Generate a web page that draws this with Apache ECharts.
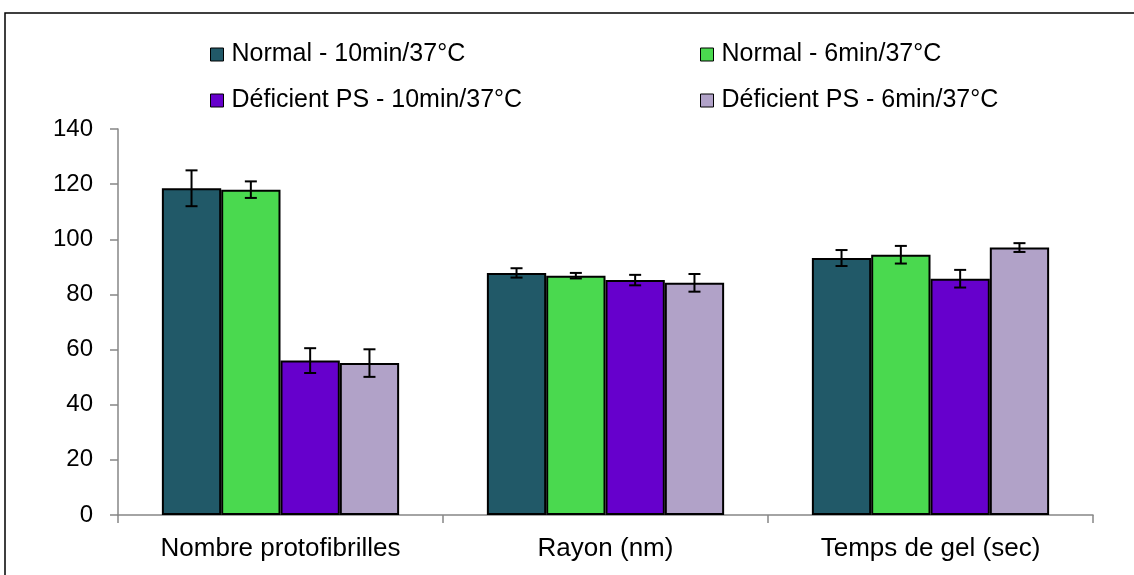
<!DOCTYPE html>
<html>
<head>
<meta charset="utf-8">
<script src="https://cdn.jsdelivr.net/npm/echarts@6/dist/echarts.min.js"></script>
<style>
  html, body { margin: 0; padding: 0; background: #fff; }
  #main { width: 1134px; height: 575px; }
</style>
</head>
<body>
<div id="main"></div>
<script>
var categories = ["Nombre protofibrilles", "Rayon (nm)", "Temps de gel (sec)"];
var seriesNames = ["Normal - 10min/37°C", "Normal - 6min/37°C", "Déficient PS - 10min/37°C", "Déficient PS - 6min/37°C"];
var colors = ["#215968", "#4ad94f", "#6600cc", "#b1a2c8"];

var normal10 = [118.5, 87.8, 93.2];
var normal6 = [118.0, 86.8, 94.4];
var deficient10 = [56.0, 85.2, 85.7];
var deficient6 = [55.1, 84.2, 97.0];

var normal10Err = [6.5, 1.7, 2.9];
var normal6Err = [3.0, 1.0, 3.2];
var deficient10Err = [4.5, 1.9, 3.2];
var deficient6Err = [5.0, 3.2, 1.6];

var yTicks = [0, 20, 40, 60, 80, 100, 120, 140];

var values = [normal10, normal6, deficient10, deficient6];
var errors = [normal10Err, normal6Err, deficient10Err, deficient6Err];

var chartDom = document.getElementById("main");
var myChart = echarts.init(chartDom);
var option;

var GROUP = 0.73; // share of the category taken by the 4 bars

function errorSeries(k) {
  var data = categories.map(function (c, i) {
    return [i, values[k][i] - errors[k][i], values[k][i] + errors[k][i]];
  });
  return {
    type: "custom",
    name: seriesNames[k] + " err",
    silent: true,
    z: 10,
    renderItem: function (params, api) {
      var bw = api.size([1, 0])[0] * GROUP / 4;
      var lo = api.coord([api.value(0), api.value(1)]);
      var hi = api.coord([api.value(0), api.value(2)]);
      var x = lo[0] + (k - 1.5) * bw;
      var cap = 6;
      var st = { stroke: "#000", lineWidth: 2 };
      return {
        type: "group",
        children: [
          { type: "line", shape: { x1: x, y1: lo[1], x2: x, y2: hi[1] }, style: st },
          { type: "line", shape: { x1: x - cap, y1: lo[1], x2: x + cap, y2: lo[1] }, style: st },
          { type: "line", shape: { x1: x - cap, y1: hi[1], x2: x + cap, y2: hi[1] }, style: st }
        ]
      };
    },
    encode: { x: 0, y: [1, 2] },
    data: data
  };
}

var barSeries = seriesNames.map(function (n, k) {
  return {
    type: "bar",
    name: n,
    data: values[k],
    barGap: "0%",
    barCategoryGap: ((1 - GROUP) * 100).toFixed(1) + "%",
    itemStyle: { color: colors[k], borderColor: "#000", borderWidth: 2 }
  };
});

function legendAt(name, left, top) {
  return {
    data: [name],
    left: left,
    top: top,
    padding: 0,
    itemWidth: 13,
    itemHeight: 13,
    icon: "rect",
    itemStyle: { borderColor: "#000", borderWidth: 1 },
    textStyle: { fontFamily: "Liberation Sans", fontSize: 25, color: "#000", padding: [0, 0, 0, 3] },
    selectedMode: false
  };
}

option = {
  animation: false,
  backgroundColor: "#fff",
  textStyle: { fontFamily: "Liberation Sans" },
  graphic: [{
    type: "rect",
    shape: { x: 5, y: 13, width: 1140, height: 580 },
    style: { fill: "none", stroke: "#000", lineWidth: 1.5 },
    silent: true
  }],
  legend: [
    legendAt(seriesNames[0], 210, 42),
    legendAt(seriesNames[1], 700, 42),
    legendAt(seriesNames[2], 210, 88),
    legendAt(seriesNames[3], 700, 88)
  ],
  grid: { left: 118, right: 41, top: 129, bottom: 60, containLabel: false },
  xAxis: {
    type: "category",
    data: categories,
    axisLine: { lineStyle: { color: "#868686", width: 1.5 } },
    axisTick: { show: true, alignWithLabel: false, length: 8, lineStyle: { color: "#868686", width: 1.5 } },
    axisLabel: { fontSize: 26, color: "#000", margin: 21, fontFamily: "Liberation Sans" }
  },
  yAxis: {
    type: "value",
    min: yTicks[0],
    max: yTicks[yTicks.length - 1],
    interval: 20,
    splitLine: { show: false },
    axisLine: { show: true, lineStyle: { color: "#868686", width: 1.5 } },
    axisTick: { show: true, length: 8, lineStyle: { color: "#868686", width: 1.5 } },
    axisLabel: { fontSize: 24, color: "#000", margin: 25, fontFamily: "Liberation Sans" }
  },
  series: barSeries.concat(seriesNames.map(function (n, k) { return errorSeries(k); }))
};

option && myChart.setOption(option);
</script>
</body>
</html>
